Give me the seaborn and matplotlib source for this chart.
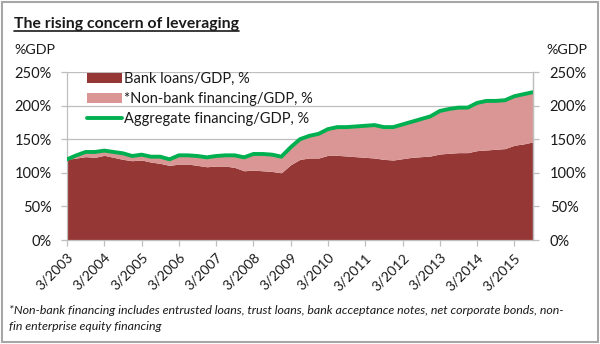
import matplotlib
matplotlib.use("Agg")
import matplotlib.pyplot as plt
import seaborn as sns
import numpy as np
import pandas as pd
from matplotlib.patches import Rectangle, Patch
from matplotlib.lines import Line2D
from matplotlib.ticker import FuncFormatter

# ---- data (quarterly, 3/2003 .. 9/2015), % of GDP ----
quarters = [f"{m}/{y}" for y in range(2003, 2016) for m in (3, 6, 9, 12)][:51]
bank_loans = [120, 122, 124, 123, 126, 123, 120, 118, 119, 116, 114, 111,
              113, 113, 111, 109, 110, 110, 108, 103, 104, 103, 102, 100,
              112, 120, 122, 122, 126, 126, 125, 124, 123, 122, 120, 119,
              121, 123, 124, 125, 128, 129, 130, 130, 133, 134, 135, 136,
              141, 143, 146]
aggregate = [120, 126, 131, 131, 133, 131, 129, 125, 127, 124, 124, 120,
             126, 126, 125, 123, 125, 126, 126, 123, 128, 128, 127, 124,
             138, 150, 155, 158, 165, 168, 168, 169, 170, 171, 168, 168,
             172, 176, 180, 184, 192, 195, 197, 197, 204, 207, 207, 208,
             214, 217, 220]
tick_labels = [f"3/{y}" for y in range(2003, 2016)]
series_names = ["Bank loans/GDP, %", "*Non-bank financing/GDP, %", "Aggregate financing/GDP, %"]

df = pd.DataFrame({"q": np.arange(len(quarters)), "quarter": quarters,
                   "bank": bank_loans, "agg": aggregate})
df["nonbank"] = df["agg"] - df["bank"]

# ---- style ----
sns.set_theme(style="white")
FONT = ["Lato", "DejaVu Sans"]
plt.rcParams["font.family"] = FONT

C_BANK = "#953735"
C_NON = "#D99694"
C_AGG = "#00B050"
C_GRID = "#BEBEBE"
C_TXT = "#1a1a1a"

W, H = 600, 344
fig = plt.figure(figsize=(W / 100, H / 100), dpi=100)
fig.patch.set_facecolor("white")

def fx(px):
    return px / W

def fy(py):
    return 1 - py / H

x0, x1, y0, y1 = 67, 533, 72, 240
ax = fig.add_axes([fx(x0), fy(y1), fx(x1 - x0), (y1 - y0) / H])

ax.stackplot(df["q"], df["bank"], df["nonbank"], colors=[C_BANK, C_NON],
             linewidth=0, zorder=2)
sns.lineplot(data=df, x="q", y="agg", ax=ax, color=C_AGG, linewidth=2.8,
             zorder=3, legend=False)

ax.set_xlim(0, len(quarters) - 1)
ax.set_ylim(0, 250)
ax.set_yticks(np.arange(0, 251, 50))
pct = FuncFormatter(lambda v, p: f"{int(v)}%")
ax.yaxis.set_major_formatter(pct)
ax.set_xticks(np.arange(0, len(quarters), 4))
ax.set_xticklabels(tick_labels, rotation=45, ha="right", rotation_mode="anchor",
                   fontsize=10, color=C_TXT)
ax.set_xlabel("")
ax.set_ylabel("")
ax.grid(axis="y", color=C_GRID, linewidth=0.9, zorder=0)
ax.set_axisbelow(True)
ax.spines["top"].set_visible(False)
for s in ["left", "right", "bottom"]:
    ax.spines[s].set_color(C_GRID)
    ax.spines[s].set_linewidth(0.9)
ax.tick_params(axis="y", labelsize=10.5, colors=C_TXT, length=4, width=0.9,
               color=C_GRID, left=True, pad=7)
ax.tick_params(axis="x", length=4, width=0.9, color=C_GRID, bottom=True, pad=4)

ax2 = ax.twinx()
ax2.set_ylim(0, 250)
ax2.set_yticks(np.arange(0, 251, 50))
ax2.yaxis.set_major_formatter(pct)
ax2.tick_params(axis="y", labelsize=10.5, colors=C_TXT, length=4, width=0.9,
                color=C_GRID, right=True, pad=8)
ax2.grid(False)
for s in ["top", "left", "bottom"]:
    ax2.spines[s].set_visible(False)
ax2.spines["right"].set_color(C_GRID)
ax2.spines["right"].set_linewidth(0.9)

# legend
handles = [Patch(facecolor=C_BANK, edgecolor="none"),
           Patch(facecolor=C_NON, edgecolor="none"),
           Line2D([0], [0], color=C_AGG, linewidth=2.8)]
leg = ax.legend(handles, series_names, loc="upper left",
                bbox_to_anchor=(fx(87), fy(72)), bbox_transform=fig.transFigure,
                frameon=False, fontsize=10.5, handlelength=2.4, handleheight=0.75,
                handletextpad=0.15, labelspacing=0.42, borderaxespad=0,
                borderpad=0)
for t in leg.get_texts():
    t.set_color(C_TXT)

# title (bold, underlined)
title = fig.text(fx(14), fy(28), "The rising concern of leveraging", fontsize=11.3,
                 fontweight="bold", color=C_TXT, ha="left", va="baseline")
fig.canvas.draw()
bb = title.get_window_extent()
fig.add_artist(Line2D([bb.x0 / W, bb.x1 / W], [fy(31), fy(31)],
                      transform=fig.transFigure, color=C_TXT, linewidth=1.2))

fig.text(fx(14), fy(50), "%GDP", fontsize=10.3, color=C_TXT, ha="left", va="center")
fig.text(fx(546), fy(50), "%GDP", fontsize=10.3, color=C_TXT, ha="left", va="center")

fig.text(fx(9), fy(310), "*Non-bank financing includes entrusted loans, trust loans, "
         "bank acceptance notes, net corporate bonds, non-", fontsize=8.9,
         style="italic", color=C_TXT, ha="left", va="center")
fig.text(fx(9), fy(327), "fin enterprise equity financing", fontsize=8.9,
         style="italic", color=C_TXT, ha="left", va="center")

# outer frame
fig.add_artist(Rectangle((fx(2), fy(342)), fx(596), 340 / H, transform=fig.transFigure,
                         fill=False, edgecolor="#A6A6A6", linewidth=1.5))

fig.savefig("out.png", dpi=100)
